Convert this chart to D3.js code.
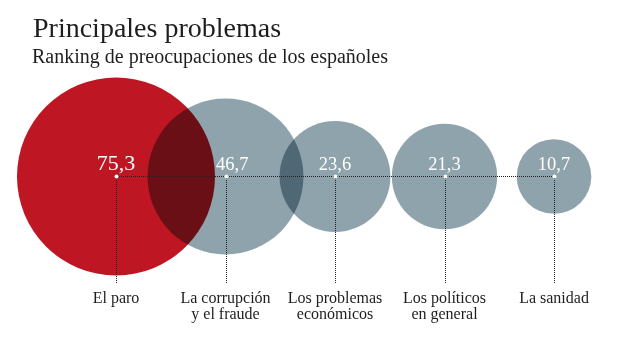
<!DOCTYPE html>
<html>
<head>
<meta charset="utf-8">
<script src="https://cdn.jsdelivr.net/npm/d3@7"></script>
<style>
  html, body { margin: 0; padding: 0; background: #fff; }
  svg { display: block; }
  text { font-family: "Liberation Serif", "Times New Roman", serif; }
</style>
</head>
<body>
<div id="chart"></div>
<script>
// Top concerns of Spaniards (% of respondents)
const categories = ["El paro", "La corrupción y el fraude", "Los problemas económicos", "Los políticos en general", "La sanidad"];
const values = [75.3, 46.7, 23.6, 21.3, 10.7];
const labelLines = [
  ["El paro"],
  ["La corrupción", "y el fraude"],
  ["Los problemas", "económicos"],
  ["Los políticos", "en general"],
  ["La sanidad"]
];
const colors = ["#be1622", "#8fa3ad", "#8fa3ad", "#8fa3ad", "#8fa3ad"];

const W = 620, H = 349;
const cy = 176.5;

const svg = d3.select("#chart").append("svg")
  .attr("width", W).attr("height", H);

svg.append("text")
  .attr("x", 33).attr("y", 37)
  .attr("font-size", 28).attr("fill", "#1e1e1e")
  .text("Principales problemas");
svg.append("text")
  .attr("x", 32).attr("y", 63)
  .attr("font-size", 20).attr("fill", "#1e1e1e")
  .text("Ranking de preocupaciones de los españoles");

const x = d3.scalePoint().domain(categories).range([116, 554]);
const r = d3.scaleSqrt().domain([0, d3.max(values)]).range([0, 99]);
const fmt = v => d3.format(".1f")(v).replace(".", ",");
const px = c => Math.round(x(c)) + 0.5;   // pixel-aligned guide position

const data = categories.map((c, i) => ({ c, v: values[i], lines: labelLines[i], color: colors[i], i }));

// bubbles, overlapping areas darken via multiply
const bubbles = svg.append("g").style("isolation", "isolate");
bubbles.selectAll("circle").data(data).join("circle")
  .attr("cx", d => x(d.c)).attr("cy", cy)
  .attr("r", d => r(d.v))
  .attr("fill", d => d.color)
  .style("mix-blend-mode", "multiply");

// dotted guides
const guides = svg.append("g")
  .attr("stroke", "#222").attr("stroke-width", 1)
  .attr("stroke-dasharray", "1,1")
  .attr("shape-rendering", "crispEdges");
guides.append("line")
  .attr("x1", px(categories[0])).attr("x2", px(categories[categories.length - 1]))
  .attr("y1", cy).attr("y2", cy);
guides.selectAll("line.v").data(data).join("line")
  .attr("class", "v")
  .attr("x1", d => px(d.c)).attr("x2", d => px(d.c))
  .attr("y1", cy + 1).attr("y2", 283);

svg.selectAll("circle.dot").data(data).join("circle")
  .attr("class", "dot")
  .attr("cx", d => px(d.c)).attr("cy", cy).attr("r", 2)
  .attr("fill", "#fff");

// value labels; a label that would sit on the previous bubble is pushed past its edge
const vals = svg.append("g");
vals.selectAll("text").data(data).join("text")
  .attr("y", 170)
  .attr("fill", "#fff")
  .attr("font-size", d => d.i === 0 ? 22 : 18.5)
  .attr("text-anchor", "middle")
  .text(d => fmt(d.v))
  .each(function (d) {
    const cx = x(d.c);
    let tx = cx;
    if (d.i > 0) {
      const prev = data[d.i - 1];
      const edge = x(prev.c) + r(prev.v);
      const half = this.getComputedTextLength() / 2;
      if (cx - half < edge) tx = edge + half + 1;
    }
    d3.select(this).attr("x", tx);
  });

// category labels
const labels = svg.append("g");
data.forEach(d => {
  const t = labels.append("text")
    .attr("text-anchor", "middle")
    .attr("font-size", 16).attr("fill", "#1e1e1e");
  d.lines.forEach((ln, k) => {
    t.append("tspan").attr("x", x(d.c)).attr("y", 303 + k * 15.6).text(ln);
  });
});
</script>
</body>
</html>
